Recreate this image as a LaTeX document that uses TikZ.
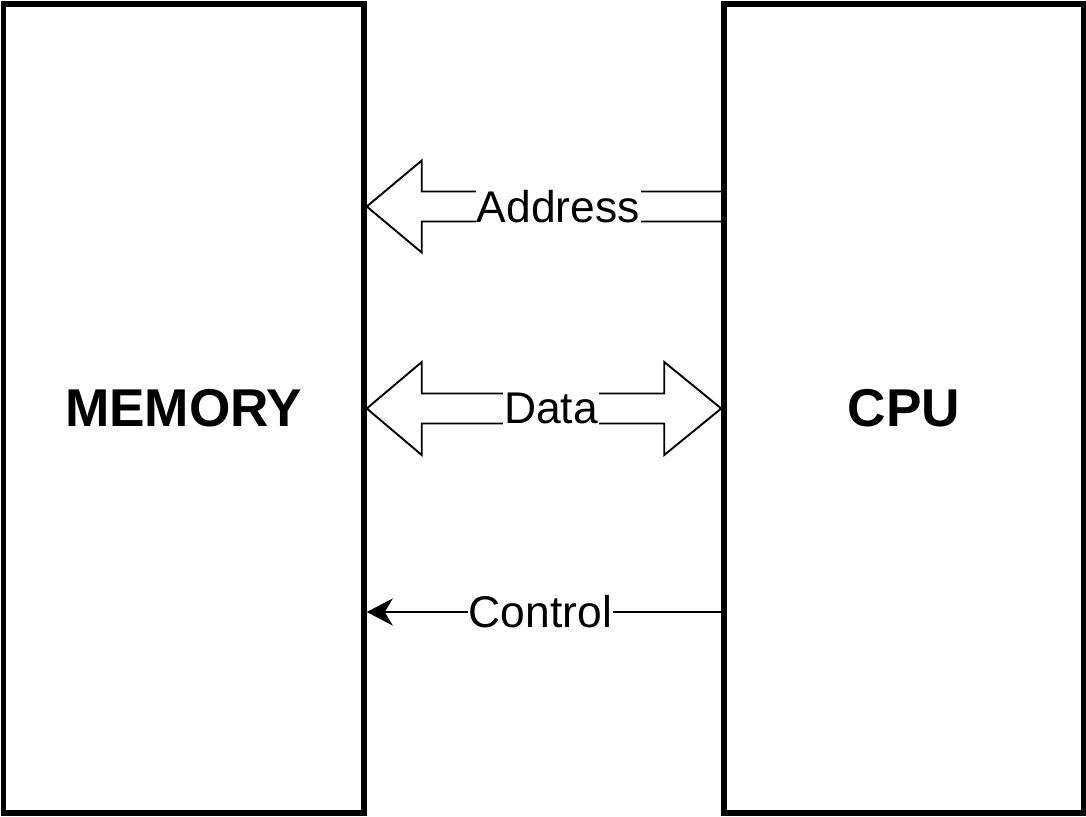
\documentclass[tikz,border=0pt]{standalone}
\usepackage{fontspec}
\setmainfont{Liberation Sans}
\usetikzlibrary{calc,arrows.meta}
\begin{document}
\begin{tikzpicture}[
    x=0.5pt, y=-0.5pt,
    unit/.style={rectangle, draw=black, line width=2.75pt, minimum width=180.25pt, minimum height=404.5pt, font=\fontsize{26.6}{30}\selectfont\bfseries},
    bus/.style={draw=black, line width=0.95pt, line join=miter},
    arrow/.style={-{Stealth[length=13pt, width=13.5pt, inset=4pt]}, line width=0.95pt},
    buslabel/.style={fill=white, inner sep=0.5pt, font=\fontsize{22.2}{25}\selectfont}
  ]
  \useasboundingbox (0,0) rectangle (1086,816);

  % Units
  \node (memory) [unit] at (183.75,408.5) {MEMORY};
  \node (cpu) [unit, minimum width=179.75pt] at (903.75,408.5) {CPU};

  % Address bus
  \coordinate (addrL) at ($(memory.east)+(0,-202)$);
  \coordinate (addrR) at ($(cpu.west)+(0,-202)$);
  \draw[bus] ($(addrR)+(0,-15)$) -- ($(addrL)+(55,-15)$) -- ++(0,-31) -- (addrL) -- ++(55,46) -- ++(0,-31) -- ($(addrR)+(0,15)$);
  \node[buslabel] (addr) at ($(addrL)!0.54!(addrR)$) {Address};

  % Data bus
  \draw[bus] (memory.east) -- ++(55,-46.5) -- ++(0,31.5) -- ($(cpu.west)+(-57,-15)$) -- ++(0,-31.5) -- (cpu.west) -- ++(-57,46.5) -- ++(0,-31.5) -- ($(memory.east)+(55,15)$) -- ++(0,31.5) -- cycle;
  \node[buslabel] (data) at ($(memory.east)!0.52!(cpu.west)$) {Data};

  % Control line
  \coordinate (ctrlL) at ($(memory.east)+(0,203.5)$);
  \coordinate (ctrlR) at ($(cpu.west)+(0,203.5)$);
  \draw[arrow] (ctrlR) -- node[buslabel, pos=0.51] (ctrl) {Control} (ctrlL);

\end{tikzpicture}
\end{document}
